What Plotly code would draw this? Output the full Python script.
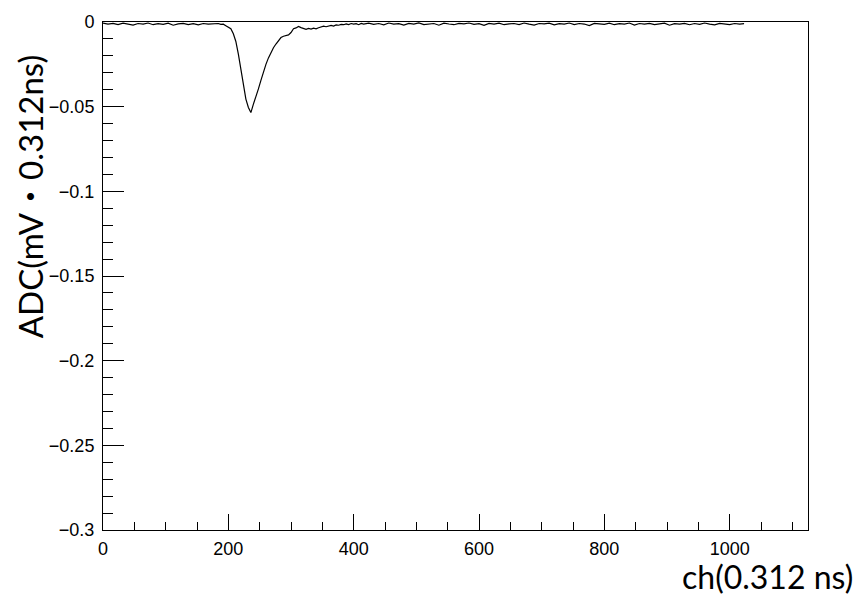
import plotly.graph_objects as go

# channel numbers (0.312 ns per channel)
channels = (
    [0, 8, 16, 24, 32, 40, 48, 56, 64, 72, 80, 88, 96, 104, 112, 120, 128, 136, 144, 152, 160, 168, 176]
    + [180, 184, 188, 192, 196, 200, 204, 208, 212, 216, 220, 224, 228, 232, 236, 240, 244, 248, 252, 256,
       260, 264, 268, 272, 276, 280, 284, 288, 292, 296, 300, 304, 308, 312, 316, 320, 324, 328, 332, 336,
       340, 344, 348, 352, 356, 360, 364, 368, 372, 376, 380, 384, 388, 392, 396, 400, 404, 408, 412, 416, 420]
    + [424, 432, 440, 448, 456, 464, 472, 480, 488, 496, 504, 512, 520, 528, 536, 544, 552, 560, 568, 576,
       584, 592, 600, 608, 616, 624, 632, 640, 648, 656, 664, 672, 680, 688, 696, 704, 712, 720, 728, 736,
       744, 752, 760, 768, 776, 784, 792, 800, 808, 816, 824, 832, 840, 848, 856, 864, 872, 880, 888, 896,
       904, 912, 920, 928, 936, 944, 952, 960, 968, 976, 984, 992, 1000, 1008, 1016, 1023]
)

# ADC values (mV * 0.312 ns)
adc = (
    [-0.0006, -0.0012, -0.0008, -0.0015, -0.0007, -0.0011, -0.0018, -0.0009, -0.0013, -0.0006, -0.0016,
     -0.0010, -0.0014, -0.0007, -0.0019, -0.0011, -0.0008, -0.0015, -0.0010, -0.0017, -0.0009, -0.0013, -0.0011]
    + [-0.0012, -0.0009, -0.0014, -0.0013, -0.0022, -0.0030, -0.0040, -0.0070, -0.0115, -0.0190,
       -0.0280, -0.0390, -0.0455, -0.0505, -0.0535, -0.0485, -0.0445, -0.0395, -0.0345, -0.0295,
       -0.0250, -0.0212, -0.0178, -0.0152, -0.0130, -0.0107, -0.0092, -0.0084, -0.0080, -0.0076,
       -0.0062, -0.0040, -0.0035, -0.0026, -0.0033, -0.0040, -0.0043, -0.0038, -0.0042, -0.0036,
       -0.0040, -0.0034, -0.0030, -0.0025, -0.0028, -0.0022, -0.0020, -0.0024, -0.0017, -0.0019,
       -0.0014, -0.0016, -0.0011, -0.0015, -0.0009, -0.0013, -0.0010, -0.0016, -0.0008, -0.0012, -0.0011]
    + [-0.0007, -0.0014, -0.0009, -0.0017, -0.0006, -0.0012, -0.0010, -0.0018, -0.0008, -0.0013,
       -0.0005, -0.0015, -0.0011, -0.0009, -0.0019, -0.0007, -0.0012, -0.0016, -0.0008, -0.0011,
       -0.0006, -0.0014, -0.0010, -0.0020, -0.0008, -0.0012, -0.0007, -0.0016, -0.0011, -0.0009,
       -0.0015, -0.0006, -0.0013, -0.0018, -0.0009, -0.0011, -0.0007, -0.0017, -0.0010, -0.0013,
       -0.0006, -0.0015, -0.0009, -0.0012, -0.0021, -0.0008, -0.0011, -0.0014, -0.0007, -0.0016,
       -0.0010, -0.0012, -0.0006, -0.0018, -0.0009, -0.0013, -0.0008, -0.0015, -0.0011, -0.0007,
       -0.0019, -0.0010, -0.0012, -0.0008, -0.0016, -0.0009, -0.0014, -0.0006, -0.0013, -0.0017,
       -0.0008, -0.0011, -0.0015, -0.0009, -0.0012, -0.0010]
)

x_range = [0, 1125]
y_range = [-0.3, 0]

fig = go.Figure()
fig.add_trace(go.Scatter(x=channels, y=adc, mode="lines",
                         line=dict(color="black", width=1.2), showlegend=False,
                         hoverinfo="skip"))

tickfont = dict(family="Liberation Sans, Arial, sans-serif", size=18, color="black")

fig.update_layout(
    width=861, height=599,
    margin=dict(l=103, r=53, t=22, b=69),
    paper_bgcolor="white", plot_bgcolor="white",
    xaxis=dict(range=x_range, dtick=200, tick0=0, ticks="inside", ticklen=16, tickwidth=1,
               tickcolor="black", showline=True, linecolor="black", linewidth=1, mirror=True,
               showgrid=False, zeroline=False, tickfont=tickfont, ticklabelstandoff=2,
               minor=dict(dtick=50, ticks="inside", ticklen=8, tickcolor="black", showgrid=False)),
    yaxis=dict(range=y_range, dtick=0.05, tick0=0, ticks="inside", ticklen=21, tickwidth=1,
               tickcolor="black", showline=True, linecolor="black", linewidth=1, mirror=True,
               showgrid=False, zeroline=False, tickfont=tickfont, ticklabelstandoff=4,
               minor=dict(dtick=0.01, ticks="inside", ticklen=10, tickcolor="black", showgrid=False)),
    annotations=[
        dict(text="ADC(mV・0.312ns)", xref="paper", yref="paper", x=-0.1035, y=0.657,
             textangle=-90, showarrow=False, xanchor="center", yanchor="middle",
             font=dict(family="Lato, Noto Sans CJK JP, sans-serif", size=33, color="black")),
        dict(text="ch(0.312 ns)", xref="paper", yref="paper", x=0.942, y=-0.0925,
             showarrow=False, xanchor="center", yanchor="middle",
             font=dict(family="Lato, sans-serif", size=32, color="black")),
    ],
)

fig.write_html("out.html")
